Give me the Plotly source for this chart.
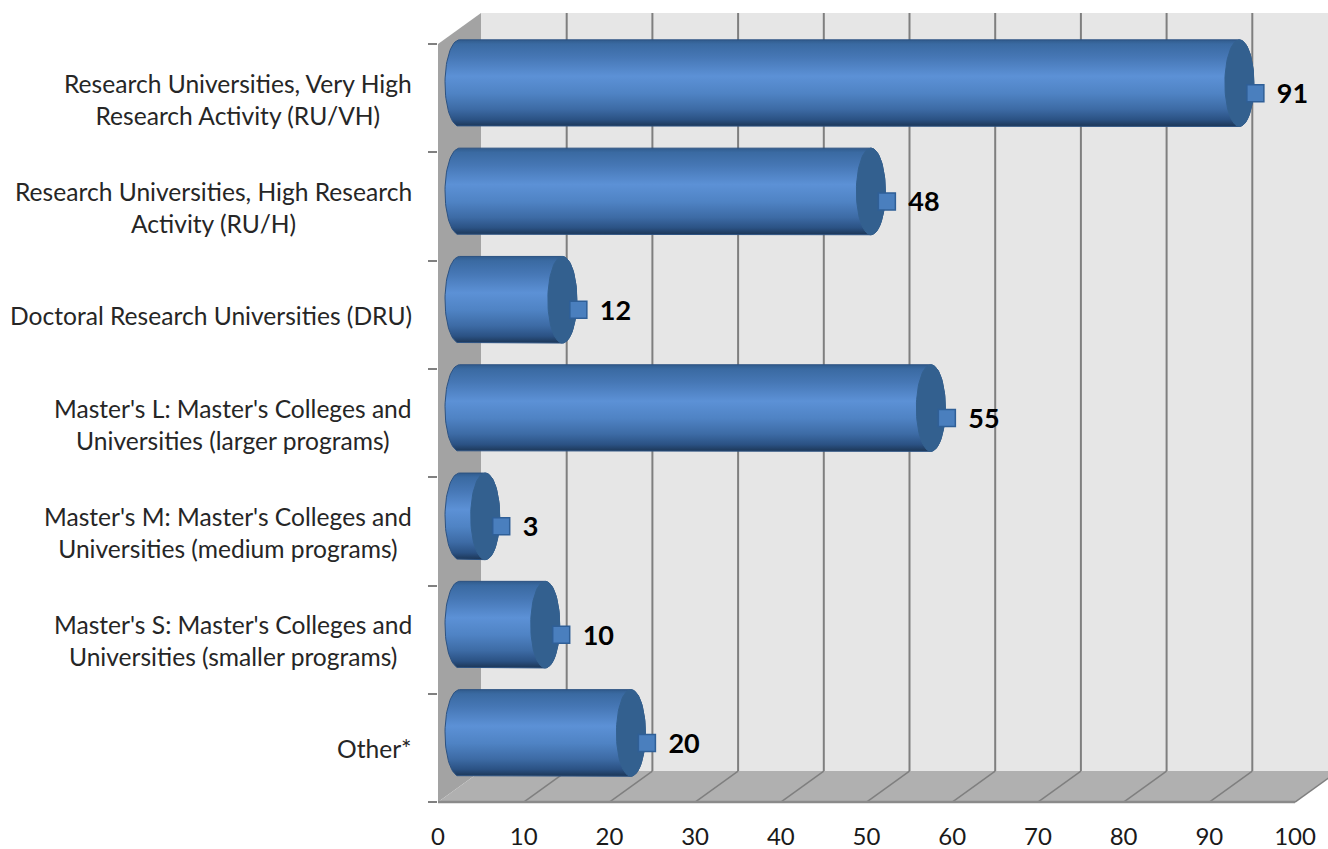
import numpy as np
import plotly.graph_objects as go

categories = [
    "Research Universities, Very High<br>Research Activity (RU/VH)",
    "Research Universities, High Research<br>Activity (RU/H)",
    "Doctoral Research Universities (DRU)",
    "Master's L: Master's Colleges and<br>Universities (larger programs)",
    "Master's M: Master's Colleges and<br>Universities (medium programs)",
    "Master's S: Master's Colleges and<br>Universities (smaller programs)",
    "Other*",
]
values = [91, 48, 12, 55, 3, 10, 20]
x_ticks = [0, 10, 20, 30, 40, 50, 60, 70, 80, 90, 100]

W, H = 1328, 849
L, B = 438, 43
PX_X = 8.57
PX_Y = 108.3
FRONT_TOP = 44.0
DX, DY = 43 / PX_X, 31 / PX_Y      # depth of the 3-D box
BAR_DX, BAR_DY = 21.5 / PX_X, 15 / PX_Y
RX, RY = 14.5 / PX_X, 43.3 / PX_Y
MARK_DX, MARK_DY = 37.5 / PX_X, 5 / PX_Y
TEXT_DX = 59 / PX_X
n = len(categories)
y_top, y_bot = -0.5, n - 0.5
x_range = [0, (W - L) / PX_X]
y_range = [y_bot + (H - B - (FRONT_TOP + n * PX_Y)) / PX_Y, y_top - FRONT_TOP / PX_Y]

GRAD = [[0, "#315c8d"], [0.05, "#3a6aa2"], [0.2, "#4677b5"], [0.42, "#5c91d6"],
        [0.62, "#4f83c4"], [0.8, "#3d6ba5"], [0.92, "#2b5284"], [1, "#1c3656"]]

def poly(xs, ys, color):
    path = "M" + " L".join(f"{a},{b}" for a, b in zip(xs, ys)) + " Z"
    return dict(type="path", path=path, xref="x", yref="y", fillcolor=color,
                line=dict(width=0), layer="below")

shapes = [
    poly([DX, 100 + DX, 100 + DX, DX], [y_top - DY, y_top - DY, y_bot - DY, y_bot - DY], "#e6e6e6"),
    poly([0, DX, DX, 0], [y_top, y_top - DY, y_bot - DY, y_bot], "#a3a3a3"),
    poly([0, 100, 100 + DX, DX], [y_bot, y_bot, y_bot - DY, y_bot - DY], "#b0b0b0"),
]
for t in x_ticks[1:]:
    shapes.append(dict(type="line", xref="x", yref="y", x0=t + DX, x1=t + DX, y0=y_top - DY, y1=y_bot - DY,
                       line=dict(color="#7f7f7f", width=2), layer="below"))
    shapes.append(dict(type="line", xref="x", yref="y", x0=t, x1=t + DX, y0=y_bot, y1=y_bot - DY,
                       line=dict(color="#7f7f7f", width=1.5), layer="below"))
shapes.append(dict(type="line", xref="x", yref="y", x0=0, x1=100, y0=y_bot, y1=y_bot,
                   line=dict(color="#8a8a8a", width=2.5), layer="below"))

fig = go.Figure()
th = np.linspace(-np.pi / 2, np.pi / 2, 40)
for i, v in enumerate(values):
    cy = i - BAR_DY
    x0, x1 = BAR_DX, v + BAR_DX
    xs = np.concatenate([x1 + RX * np.cos(th), x0 - RX * np.cos(th[::-1])])
    ys = np.concatenate([cy + RY * np.sin(th), cy + RY * np.sin(th[::-1])])
    fig.add_trace(go.Scatter(
        x=np.append(xs, xs[0]), y=np.append(ys, ys[0]), mode="lines", fill="toself",
        line=dict(color="#2c5282", width=1),
        fillgradient=dict(type="vertical", colorscale=GRAD, start=cy - RY, stop=cy + RY),
        hoverinfo="skip", showlegend=False))
    t2 = np.linspace(0, 2 * np.pi, 80)
    fig.add_trace(go.Scatter(
        x=x1 + RX * np.cos(t2), y=cy + RY * np.sin(t2), mode="lines", fill="toself",
        fillcolor="#33608f", line=dict(color="#34618f", width=1),
        hoverinfo="skip", showlegend=False))

ys_idx = list(range(n))
fig.add_trace(go.Scatter(
    x=[v + MARK_DX for v in values], y=[i - MARK_DY for i in ys_idx], mode="markers",
    marker=dict(symbol="square", size=17, color="#4a7fbe", line=dict(color="#2f5f97", width=1.5)),
    showlegend=False))
fig.add_trace(go.Scatter(
    x=[v + TEXT_DX for v in values], y=[i - MARK_DY + 0.03 for i in ys_idx], mode="text",
    text=[str(v) for v in values], textposition="middle right",
    textfont=dict(family="Lato", size=27, color="#000000", weight="bold"),
    showlegend=False))

annotations = [
    dict(x=0, y=i, xref="x", yref="y", text=c, showarrow=False, xanchor="right", yanchor="middle",
         align="center", xshift=-24, yshift=-1, font=dict(family="Lato", size=24.6, color="#262626"))
    for i, c in enumerate(categories)
]

fig.update_layout(
    width=W, height=H, autosize=False, margin=dict(l=L, r=0, t=0, b=B, pad=0),
    paper_bgcolor="white", plot_bgcolor="white", showlegend=False,
    shapes=shapes, annotations=annotations,
    xaxis=dict(range=x_range, tickvals=x_ticks, ticktext=[str(t) for t in x_ticks], showgrid=False,
               automargin=False, zeroline=False, showline=False, ticks="outside", ticklen=9,
               tickcolor="rgba(0,0,0,0)", tickfont=dict(family="Lato", size=24, color="#1a1a1a")),
    yaxis=dict(range=y_range, tickvals=[k - 0.5 for k in range(n + 1)], showticklabels=False,
               automargin=False, showgrid=False, zeroline=False, showline=False, ticks="outside",
               ticklen=9, tickwidth=2, tickcolor="#808080"),
)
fig.write_html("out.html", config={"displayModeBar": False}, post_script="document.body.style.margin='0';")
